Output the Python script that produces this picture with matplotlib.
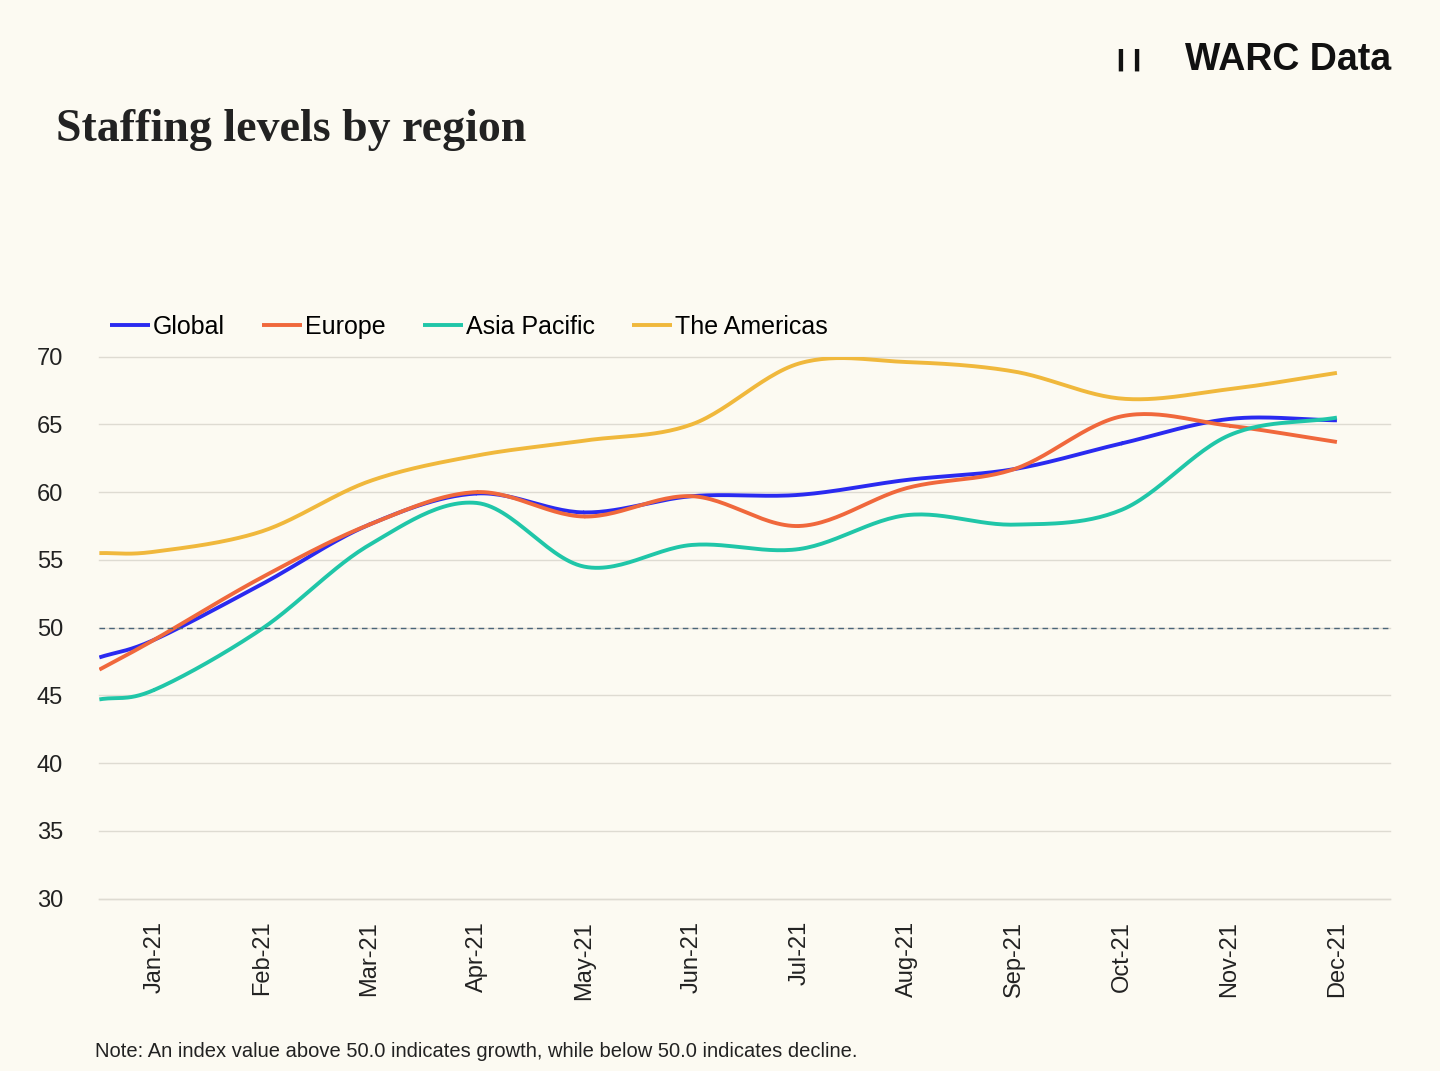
import matplotlib.pyplot as plt
import numpy as np

months = ['', 'Jan-21', 'Feb-21', 'Mar-21', 'Apr-21', 'May-21', 'Jun-21',
          'Jul-21', 'Aug-21', 'Sep-21', 'Oct-21', 'Nov-21', 'Dec-21']
global_vals = [47.8, 49.1, 53.2, 57.6, 59.9, 58.5, 59.7, 59.8, 60.9, 61.7, 63.6, 65.4, 65.3]
europe_vals = [46.9, 49.1, 53.7, 57.6, 60.0, 58.2, 59.7, 57.5, 60.3, 61.7, 65.6, 64.9, 63.7]
asia_vals = [44.7, 45.4, 49.9, 56.1, 59.2, 54.5, 56.1, 55.8, 58.3, 57.6, 58.7, 64.2, 65.5]
americas_vals = [55.5, 55.6, 57.1, 60.8, 62.7, 63.8, 65.0, 69.5, 69.6, 68.9, 66.9, 67.6, 68.8]
series = [('Global', global_vals, '#2a2af0'), ('Europe', europe_vals, '#f0683c'),
          ('Asia Pacific', asia_vals, '#20c6a8'), ('The Americas', americas_vals, '#f0b83c')]

BG = '#fcfaf2'
# first (unlabelled) point sits half a step before Jan, at the axis edge
xs = np.array([-0.51] + list(range(12)), dtype=float)


def smooth(x, y, n=30):
    # Catmull-Rom spline through the points, just for drawing
    x = np.asarray(x, float); y = np.asarray(y, float)
    px = np.concatenate([[2 * x[0] - x[1]], x, [2 * x[-1] - x[-2]]])
    py = np.concatenate([[2 * y[0] - y[1]], y, [2 * y[-1] - y[-2]]])
    ox, oy = [], []
    t = np.linspace(0, 1, n)
    for i in range(1, len(px) - 2):
        for p, o in ((px, ox), (py, oy)):
            p0, p1, p2, p3 = p[i - 1], p[i], p[i + 1], p[i + 2]
            o.extend(0.5 * (2 * p1 + (-p0 + p2) * t + (2 * p0 - 5 * p1 + 4 * p2 - p3) * t**2
                            + (-p0 + 3 * p1 - 3 * p2 + p3) * t**3))
    return ox, oy


fig = plt.figure(figsize=(14.4, 10.71), dpi=100, facecolor=BG)
ax = fig.add_axes([0.069, 0.161, 0.896, 0.506], facecolor=BG)

for name, vals, color in series:
    sx, sy = smooth(xs, vals)
    ax.plot(sx, sy, color=color, lw=2.8, label=name, solid_capstyle='butt')

ax.axhline(50, color='#4a6478', lw=1, ls=(0, (4, 3)))
ax.set_ylim(30, 70)
ax.set_xlim(-0.51, 11.49)
ax.set_yticks(range(30, 71, 5))
ax.yaxis.grid(True, color='#dedbd2', lw=1, clip_on=False)
ax.set_axisbelow(True)
ax.set_xticks(range(12))
ax.set_xticklabels(months[1:], rotation=90, fontsize=17, family='Liberation Sans')
for lab in ax.get_yticklabels():
    lab.set_fontsize(17); lab.set_family('Liberation Sans')
ax.tick_params(axis='both', length=0, colors='#222222')
ax.tick_params(axis='x', pad=16)
ax.tick_params(axis='y', pad=26)
for s in ax.spines.values():
    s.set_visible(False)
ax.axhline(30, color='#dedbd2', lw=1, clip_on=False)

leg = ax.legend(loc='lower left', bbox_to_anchor=(-0.005, 1.0), ncol=4, frameon=False,
                handlelength=1.6, handletextpad=0.1, columnspacing=1.5,
                borderaxespad=0.3, prop={'family': 'Liberation Sans', 'size': 18})

fig.text(0.039, 0.879, 'Staffing levels by region', fontsize=33, fontweight='semibold',
         family='Liberation Serif', color='#222222', va='center')
fig.text(0.966, 0.944, 'WARC Data', fontsize=27, fontweight='bold',
         family='Liberation Sans', ha='right', va='center', color='#111111')
fig.text(0.800, 0.944, '\u258e\u258e', fontsize=16, ha='right', va='center', color='#111111')
fig.text(0.066, 0.013, 'Note: An index value above 50.0 indicates growth, while below 50.0 indicates decline.',
         fontsize=14.5, family='Liberation Sans', color='#222222')

fig.savefig('out.png', dpi=100, facecolor=BG)
